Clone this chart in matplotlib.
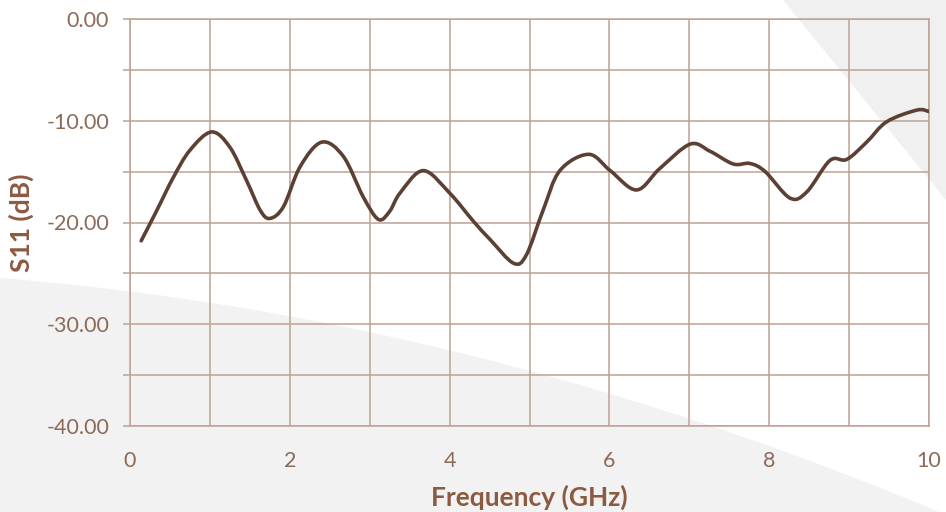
import numpy as np
import matplotlib
matplotlib.use("Agg")
import matplotlib.pyplot as plt
from matplotlib.patches import Polygon, PathPatch
from matplotlib.path import Path

# S11 values
freq = [0.14, 0.33, 0.54, 0.75, 1.02, 1.25, 1.46, 1.63, 1.75, 1.92, 2.13, 2.40,
        2.67, 2.92, 3.11, 3.25, 3.38, 3.67, 4.00, 4.30, 4.51, 4.80, 4.96, 5.17,
        5.38, 5.74, 6.01, 6.34, 6.63, 7.01, 7.26, 7.55, 7.76, 7.95, 8.26, 8.47,
        8.76, 8.97, 9.22, 9.47, 9.85, 10.0]
s11 = [-21.8, -18.9, -15.6, -12.9, -11.1, -12.6, -15.9, -18.8, -19.6, -18.45,
       -14.5, -12.1, -13.5, -17.5, -19.7, -18.9, -17.1, -14.9, -17.1, -19.9,
       -21.7, -24.0, -23.2, -18.8, -14.9, -13.3, -14.9, -16.8, -14.7, -12.3,
       -13.0, -14.25, -14.2, -15.0, -17.6, -17.0, -13.9, -13.8, -12.1, -10.1,
       -8.95, -9.1]

xticks = [0, 2, 4, 6, 8, 10]
yticks = [0, -10, -20, -30, -40]

txt = "#8b6a58"
title_col = "#8c5a40"
grid_col = "#bfa193"
line_col = "#5b4033"

plt.rcParams['font.family'] = ['Lato', 'DejaVu Sans']


def smooth_path(x, y):
    # excel-like smoothed line: cubic bezier through every point
    p = np.column_stack([x, y])
    verts = [p[0]]
    codes = [Path.MOVETO]
    n = len(p)
    for i in range(n - 1):
        p0 = p[i - 1] if i > 0 else p[i]
        p3 = p[i + 2] if i + 2 < n else p[i + 1]
        c1 = p[i] + (p[i + 1] - p0) / 6
        c2 = p[i + 1] - (p3 - p[i]) / 6
        verts += [c1, c2, p[i + 1]]
        codes += [Path.CURVE4] * 3
    return Path(verts, codes)


fig = plt.figure(figsize=(9.46, 5.12), dpi=100)
fig.patch.set_facecolor("white")

# background shapes (light grey)
px = np.linspace(0, 946, 60)
py = 278 + 0.08 * px + 0.00018 * px**2
pts = [(0, 0)] + [(a / 946, 1 - b / 512) for a, b in zip(px, py)] + [(1, 0)]
fig.patches.append(Polygon(pts, closed=True, transform=fig.transFigure,
                           facecolor="#f2f2f2", edgecolor="none", zorder=-1))
fig.patches.append(Polygon([(783/946, 1), (1, 1), (1, 1 - 200/512)], closed=True,
                           transform=fig.transFigure, facecolor="#f0f0f0",
                           edgecolor="none", zorder=-1))

ax = fig.add_axes([130/946, 1 - 426/512, 799/946, 407/512])
ax.set_zorder(1)
ax.patch.set_alpha(0)

ax.add_patch(PathPatch(smooth_path(freq, s11), facecolor="none", edgecolor=line_col,
                       lw=2.6, capstyle="round", joinstyle="round", zorder=3))

ax.set_xlim(0, 10)
ax.set_ylim(-40, 0)
ax.set_xticks(xticks)
ax.set_xticks(np.arange(0, 11, 1), minor=True)
ax.set_yticks(yticks)
ax.set_yticks(np.arange(-40, 1, 5), minor=True)
ax.set_yticklabels(["%.2f" % v for v in yticks])
ax.grid(True, which="both", color=grid_col, lw=1.1)
ax.set_axisbelow(True)
for s in ax.spines.values():
    s.set_color(grid_col)
    s.set_linewidth(1.1)

ax.tick_params(axis="x", which="both", length=0, pad=18, labelsize=15.5, colors=txt)
ax.tick_params(axis="y", which="both", length=5, width=1.1, color=grid_col,
               pad=10, labelsize=15.5, labelcolor=txt)

ax.set_xlabel("Frequency (GHz)", fontsize=19, fontweight="bold", color=title_col,
              labelpad=10)
ax.set_ylabel("S11 (dB)", fontsize=19, fontweight="bold", color=title_col,
              labelpad=9)

fig.savefig("out.png", dpi=100)
